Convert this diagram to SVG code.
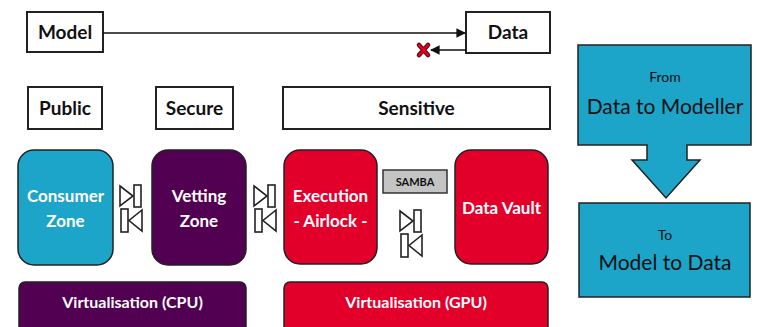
<svg xmlns="http://www.w3.org/2000/svg" xmlns:xlink="http://www.w3.org/1999/xlink" width="757" height="327" viewBox="0 0 757 327">
<style>
.lbl{fill:#fff;stroke:#222;stroke-width:2}
.lt{font-family:Lato,"Open Sans",sans-serif;font-weight:bold;font-size:19px;fill:#111;text-anchor:middle}
.zt{font-family:Lato,"Open Sans",sans-serif;font-weight:bold;font-size:17px;fill:#fff;text-anchor:middle}
.vt{font-family:Lato,"Open Sans",sans-serif;font-weight:bold;font-size:16px;fill:#fff;text-anchor:middle}
.zone{stroke:#222;stroke-width:1.5}
.cy{fill:#1DA4C9}.pu{fill:#520052}.rd{fill:#E2002B}
.bt{font-family:Lato,"Open Sans",sans-serif;font-size:21px;fill:#111;text-anchor:middle}
.st{font-family:Lato,"Open Sans",sans-serif;font-size:14px;fill:#111;text-anchor:middle}
.conn{stroke:#111;stroke-width:1.6;fill:none}
.valve{fill:#fff;stroke:#222;stroke-width:1.6}
</style>
<defs>
<marker id="ah" viewBox="0 0 10 10" refX="9" refY="5" markerWidth="6" markerHeight="6" orient="auto-start-reverse">
<path d="M0,0 L10,5 L0,10 z" fill="#111"/>
</marker>
<g id="valve">
<polygon class="valve" points="0,1 13,11 0,21"/>
<rect class="valve" x="14" y="0" width="7" height="22"/>
<rect class="valve" x="1" y="24" width="7" height="23"/>
<polygon class="valve" points="22,25 9,35.5 22,46"/>
</g>
</defs>
<rect width="757" height="327" fill="#fff"/>

<g id="model"><rect class="lbl" x="27" y="12" width="76" height="40"/><text class="lt" x="65" y="39">Model</text></g>
<g id="data"><rect class="lbl" x="466" y="12" width="84" height="41"/><text class="lt" x="508" y="39">Data</text></g>

<g id="public"><rect class="lbl" x="28" y="87" width="74" height="42"/><text class="lt" x="65" y="115">Public</text></g>
<g id="secure"><rect class="lbl" x="156" y="87" width="77" height="42"/><text class="lt" x="194.5" y="115">Secure</text></g>
<g id="sensitive"><rect class="lbl" x="283" y="87" width="267" height="42"/><text class="lt" x="416.5" y="115">Sensitive</text></g>

<g id="consumer"><rect class="zone cy" x="18" y="150" width="95" height="115" rx="16"/><text class="zt" x="65.5" y="202">Consumer</text><text class="zt" x="65.5" y="227">Zone</text></g>
<g id="vetting"><rect class="zone pu" x="152" y="150" width="94" height="115" rx="16"/><text class="zt" x="199" y="202">Vetting</text><text class="zt" x="199" y="227">Zone</text></g>
<g id="execution"><rect class="zone rd" x="284" y="150" width="93" height="114" rx="16"/><text class="zt" x="330.5" y="202">Execution</text><text class="zt" x="330.5" y="227">- Airlock -</text></g>
<g id="vault"><rect class="zone rd" x="455" y="150" width="93" height="114" rx="16"/><text class="zt" x="501.5" y="214">Data Vault</text></g>
<g id="samba"><rect x="383" y="170" width="64" height="23" fill="#C4C4C4" stroke="#333" stroke-width="1.5"/><text x="415" y="186" font-family="Lato,'Open Sans',sans-serif" font-weight="bold" font-size="11px" fill="#111" text-anchor="middle">SAMBA</text></g>

<g id="valves">
<use xlink:href="#valve" x="120" y="185"/>
<use xlink:href="#valve" x="254" y="185"/>
<use xlink:href="#valve" x="400" y="210"/>
</g>

<g id="virt-cpu"><rect class="zone pu" x="19" y="282" width="227" height="60" rx="6"/><text class="vt" x="132.5" y="308">Virtualisation (CPU)</text></g>
<g id="virt-gpu"><rect class="zone rd" x="284" y="282" width="264" height="60" rx="6"/><text class="vt" x="416" y="308">Virtualisation (GPU)</text></g>

<g id="from"><path d="M578,45 H751 V145 H687 V160 H700 L666,198 L632,160 H647 V145 H578 Z" fill="#1DA4C9" stroke="#222" stroke-width="1.5"/><text class="st" x="665" y="82">From</text><text class="bt" x="665" y="114">Data to Modeller</text></g>
<g id="to"><rect x="579" y="203" width="171" height="94" fill="#1DA4C9" stroke="#222" stroke-width="1.5"/><text class="st" x="665" y="240">To</text><text class="bt" x="665" y="270">Model to Data</text></g>

<g id="connectors">
<line class="conn" x1="103" y1="33" x2="465" y2="33" marker-end="url(#ah)"/>
<line class="conn" x1="466" y1="50" x2="431" y2="50" marker-end="url(#ah)"/>
<path d="M419,45 L428,55 M428,45 L419,55" stroke="#5a0000" stroke-width="4.5" stroke-linecap="round"/>
<path d="M419,45 L428,55 M428,45 L419,55" stroke="#E2002B" stroke-width="2.5" stroke-linecap="round"/>
</g>
</svg>
